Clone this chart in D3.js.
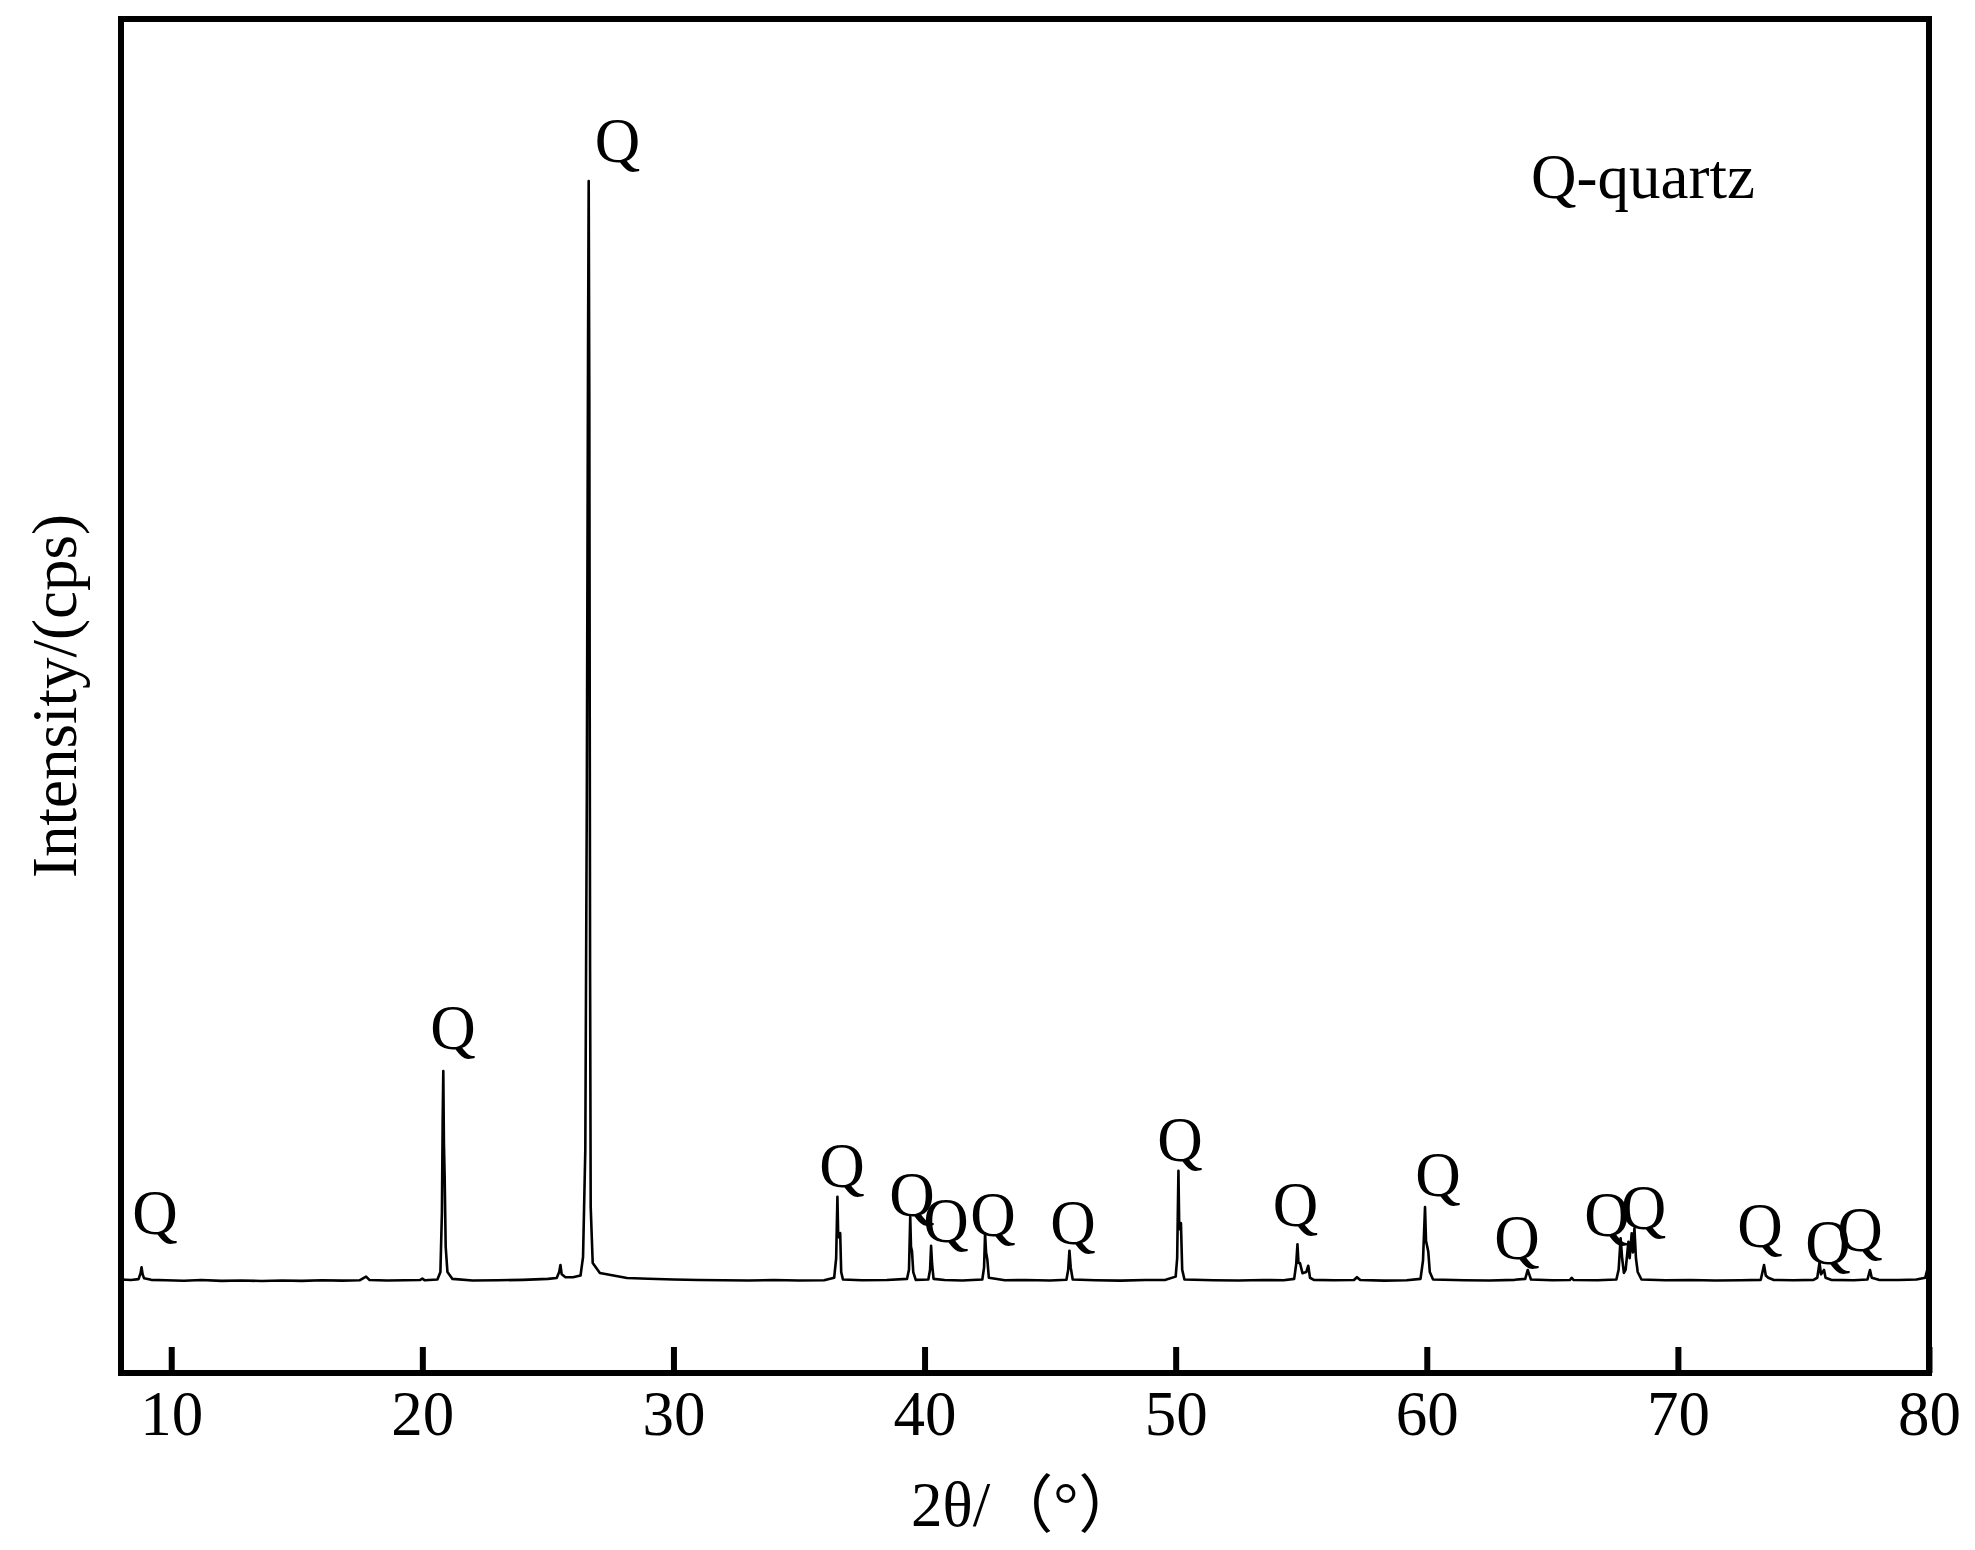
<!DOCTYPE html>
<html>
<head>
<meta charset="utf-8">
<script src="https://cdn.jsdelivr.net/npm/d3@7"></script>
<style>
  html, body { margin: 0; padding: 0; background: #fff; }
  svg text { font-family: "Liberation Serif", "Times New Roman", "Noto Sans CJK SC", serif; fill: #000; }
</style>
</head>
<body>
<svg id="chart" width="1975" height="1550"></svg>
<script>
// ---- data ----
const xTicks = [10, 20, 30, 40, 50, 60, 70, 80];
const xTitle = "2θ/（°）";
const yTitle = "Intensity/(cps)";
const legendText = "Q-quartz";
const peakLabel = "Q";

const twoTheta = [
  8.00, 8.40, 8.70, 8.78, 8.82, 8.86, 8.92, 9.2, 9.8, 10.5, 11.2, 12.0, 12.8, 13.6, 14.4, 15.2, 16.0, 16.8, 17.5, 17.76, 17.9,
  18.6, 19.3, 19.9, 20.0, 20.1, 20.60, 20.72, 20.78, 20.81, 20.835, 20.86, 20.89, 20.93, 21.0, 21.2, 22.0, 23.0, 24.0, 25.0,
  25.35, 25.45, 25.50, 25.55, 25.7, 26.0, 26.30, 26.40, 26.49, 26.55, 26.60, 26.625, 26.65, 26.68, 26.705, 26.785, 27.07, 28.15,
  29.0, 30.0, 31.0, 32.0, 33.0, 34.0, 35.0, 36.0, 36.40, 36.48, 36.53, 36.56, 36.60, 36.64, 36.68, 36.75, 37.5, 38.5,
  39.3, 39.38, 39.43, 39.46, 39.50, 39.55, 39.65, 40.15, 40.22, 40.26, 40.30, 40.36, 40.8, 41.5, 42.30, 42.37, 42.41, 42.45,
  42.50, 42.56, 43.2, 44.0, 45.0, 45.65, 45.72, 45.77, 45.82, 45.90, 46.8, 47.8, 48.8, 49.6, 50.0, 50.06, 50.11, 50.14, 50.18,
  50.21, 50.26, 50.35, 51.5, 52.5, 53.5, 54.3, 54.72, 54.80, 54.85, 54.89, 54.95, 55.05, 55.20, 55.28, 55.35, 55.5, 56.3, 57.1,
  57.22, 57.35, 58.3, 59.2, 59.75, 59.85, 59.93, 59.97, 60.02, 60.06, 60.12, 60.25, 61.5, 62.5, 63.5, 63.92, 64.02, 64.08, 64.15,
  65.0, 65.7, 65.77, 65.85, 66.8, 67.55, 67.64, 67.72, 67.78, 67.85, 67.92, 68.03, 68.08, 68.16, 68.21, 68.27, 68.33, 68.40, 68.55,
  69.5, 70.5, 71.5, 72.5, 73.3, 73.43, 73.50, 73.6, 73.8, 74.6, 75.4, 75.55, 75.64, 75.70, 75.82, 75.88, 76.1, 77.0, 77.55, 77.65,
  77.72, 78.0, 78.8, 79.5, 79.85, 80.0
];
const intensity = [
  815, 810, 818, 870, 921, 860, 825, 812, 808, 804, 810, 803, 806, 802, 806, 803, 808, 805, 808, 840, 810,
  806, 808, 810, 822, 808, 815, 880, 1400, 2200, 2632, 2000, 1700, 1100, 880, 820, 806, 808, 812, 820,
  828, 880, 941, 860, 835, 835, 850, 1011, 1943, 5000, 9000, 10388, 8500, 3500, 1447, 959, 872, 828,
  822, 815, 810, 808, 806, 810, 806, 808, 830, 1000, 1536, 1200, 1180, 1220, 880, 815, 808, 810,
  820, 900, 1360, 1100, 1060, 880, 812, 815, 900, 1109, 950, 820, 810, 806, 815, 920, 1218, 1050,
  990, 830, 808, 810, 806, 812, 900, 1066, 920, 815, 808, 805, 810, 812, 840, 1000, 1763, 1300, 1250,
  1307, 900, 815, 808, 806, 810, 808, 820, 950, 1122, 960, 959, 870, 880, 935, 830, 812, 808, 810,
  835, 810, 805, 808, 820, 980, 1447, 1150, 1100, 1057, 880, 815, 808, 806, 812, 820, 898, 860, 815,
  808, 810, 830, 810, 808, 815, 900, 1174, 1000, 872, 900, 1144, 1000, 1218, 1050, 1261, 1000, 880, 815,
  808, 810, 806, 808, 812, 941, 850, 830, 812, 808, 812, 830, 961, 860, 898, 830, 812, 808, 815, 898,
  830, 812, 810, 815, 830, 959
];

// "Q" peak labels (anchor at 2θ, intensity of the text baseline)
const labelTheta =     [9.35, 21.22, 27.77, 36.71, 39.50, 40.85, 42.73, 45.91, 50.17, 54.77, 60.45, 63.59, 67.18, 68.63, 73.27, 75.98, 77.25];
const labelIntensity = [1211, 2824, 10554, 1621, 1368, 1142, 1194, 1124, 1848, 1281, 1543, 994, 1194, 1255, 1098, 950, 1063];

// ---- chart ----
const svg = d3.select("#chart");
const L = 121, R = 1929, T = 19, B = 1373;
const x = d3.scaleLinear().domain([8, 80]).range([L, R]);
const y = d3.scaleLinear().domain([0, 11800]).range([B, T]);

const pts = twoTheta.map((t, i) => [t, intensity[i]]);
const line = d3.line().x(d => x(d[0])).y(d => y(d[1]));

svg.append("path")
  .datum(pts)
  .attr("d", line)
  .attr("fill", "none")
  .attr("stroke", "#000")
  .attr("stroke-width", 2.6)
  .attr("stroke-linejoin", "round");

// bottom axis with inward ticks
const xAxis = d3.axisBottom(x).tickValues(xTicks).tickSizeInner(-26).tickSizeOuter(0).tickPadding(0).tickFormat(d3.format("d"));
const gx = svg.append("g").attr("transform", `translate(0,${B})`).call(xAxis);
gx.select(".domain").remove();
gx.selectAll(".tick line").attr("stroke", "#000").attr("stroke-width", 6);
gx.selectAll(".tick text")
  .attr("y", 62)
  .attr("dy", null)
  .style("font-size", "63px")
  .attr("fill", "#000");

// frame
svg.append("rect")
  .attr("x", L).attr("y", T)
  .attr("width", R - L).attr("height", B - T)
  .attr("fill", "none").attr("stroke", "#000").attr("stroke-width", 6);

// peak labels
svg.append("g").selectAll("text")
  .data(labelTheta.map((t, i) => [t, labelIntensity[i]]))
  .join("text")
  .attr("x", d => x(d[0]))
  .attr("y", d => y(d[1]))
  .attr("text-anchor", "middle")
  .style("font-size", "63px")
  .text(peakLabel);

// legend note
svg.append("text")
  .attr("x", 1531).attr("y", 198)
  .style("font-size", "63px")
  .text(legendText);

// axis titles
svg.append("text")
  .attr("x", 911).attr("y", 1526)
  .style("font-size", "63px")
  .text(xTitle);

svg.append("text")
  .attr("transform", `translate(76,${(T + B) / 2}) rotate(-90)`)
  .attr("text-anchor", "middle")
  .style("font-size", "63px")
  .text(yTitle);
</script>
</body>
</html>
